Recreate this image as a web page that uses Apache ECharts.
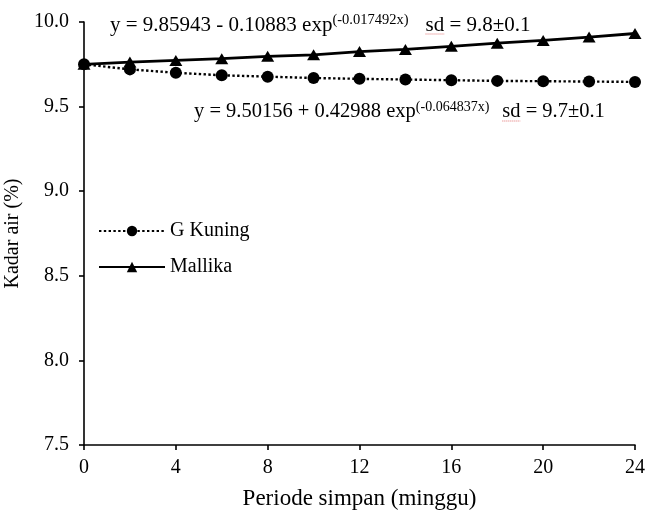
<!DOCTYPE html>
<html>
<head>
<meta charset="utf-8">
<script src="https://cdn.jsdelivr.net/npm/echarts@6/dist/echarts.min.js"></script>
<style>
html,body{margin:0;padding:0;background:#fff;}
#chart{width:648px;height:516px;}
</style>
</head>
<body>
<div id="chart"></div>
<script>
var weeks = [0, 2, 4, 6, 8, 10, 12, 14, 16, 18, 20, 22, 24];
var gKuning = [9.75, 9.72, 9.70, 9.685, 9.677, 9.669, 9.664, 9.660, 9.656, 9.652, 9.650, 9.648, 9.646];
var mallika = [9.75, 9.763, 9.773, 9.783, 9.797, 9.806, 9.825, 9.838, 9.856, 9.875, 9.891, 9.911, 9.932];
var seriesNames = ['G Kuning', 'Mallika'];
var xTitle = 'Periode simpan (minggu)';
var yTitle = 'Kadar air (%)';
var eq1 = ['y = 9.85943 - 0.10883 exp', '(-0.017492x)', 'sd', ' = 9.8\u00b10.1'];
var eq2 = ['y = 9.50156 + 0.42988 exp', '(-0.064837x)', 'sd', ' = 9.7\u00b10.1'];

var FONT = '"Liberation Serif", "Times New Roman", serif';
function pairs(ys) { return weeks.map(function (w, i) { return [w, ys[i]]; }); }

var mctx = document.createElement('canvas').getContext('2d');
function tw(t, size) { mctx.font = size + 'px ' + FONT; return mctx.measureText(t).width; }

function eqRich(fs, ss, gap) {
  return {
    m: {fontFamily: FONT, fontSize: fs, color: '#000', lineHeight: 24},
    s: {fontFamily: FONT, fontSize: ss, color: '#000', verticalAlign: 'top', lineHeight: 24},
    g: {fontFamily: FONT, fontSize: fs, color: '#000', lineHeight: 24, padding: [0, 0, 0, gap]}
  };
}
function eqGraphics(eq, x, y, fs, ss, gap) {
  var sdX = x + tw(eq[0], fs) + tw(eq[1], ss) + gap;
  var sdW = tw(eq[2], fs);
  return [
    {type: 'text', left: x, top: y, style: {
      text: '{m|' + eq[0] + '}{s|' + eq[1] + '}{g|' + eq[2] + '}{m|' + eq[3] + '}',
      rich: eqRich(fs, ss, gap)}},
    {type: 'line', shape: {x1: sdX, y1: y + 21, x2: sdX + sdW, y2: y + 21},
      style: {stroke: '#e07070', lineWidth: 1, lineDash: [1, 1]}}
  ];
}

var chart = echarts.init(document.getElementById('chart'), null, {renderer: 'canvas'});
chart.setOption({
  animation: false,
  backgroundColor: '#fff',
  grid: {left: 84, right: 13, top: 22, bottom: 71, containLabel: false, outerBoundsMode: 'none'},
  legend: {
    orient: 'vertical', left: 93, top: 216, itemWidth: 66, itemHeight: 13, itemGap: 16,
    textStyle: {fontFamily: FONT, fontSize: 20, color: '#000'},
    data: seriesNames
  },
  xAxis: {
    type: 'value', min: 0, max: 24, interval: 4,
    name: xTitle, nameLocation: 'middle', nameGap: 42,
    nameTextStyle: {fontFamily: FONT, fontSize: 23, color: '#000'},
    axisLine: {lineStyle: {color: '#000', width: 1.6}},
    axisTick: {show: true, inside: false, length: 5, lineStyle: {color: '#000', width: 1.6}},
    axisLabel: {fontFamily: FONT, fontSize: 20, color: '#000', margin: 13},
    splitLine: {show: false}
  },
  yAxis: {
    type: 'value', min: 7.5, max: 10, interval: 0.5,
    name: yTitle, nameLocation: 'middle', nameGap: 54,
    nameTextStyle: {fontFamily: FONT, fontSize: 20, color: '#000'},
    axisLine: {show: true, lineStyle: {color: '#000', width: 1.6}},
    axisTick: {show: true, inside: false, length: 5, lineStyle: {color: '#000', width: 1.6}},
    axisLabel: {fontFamily: FONT, fontSize: 20, color: '#000', margin: 15,
      formatter: function (v) { return v.toFixed(1); }},
    splitLine: {show: false}
  },
  series: [
    {
      name: seriesNames[1], type: 'line', data: pairs(mallika), z: 2,
      symbol: 'triangle', symbolSize: [13, 11],
      lineStyle: {color: '#000', width: 2.8, type: 'solid'},
      itemStyle: {color: '#000'}
    },
    {
      name: seriesNames[0], type: 'line', data: pairs(gKuning), z: 3,
      symbol: 'circle', symbolSize: 12,
      lineStyle: {color: '#000', width: 2.4, type: [2.4, 2.4]},
      itemStyle: {color: '#000'}
    }
  ],
  graphic: eqGraphics(eq1, 110, 13, 21, 14.5, 17).concat(eqGraphics(eq2, 194, 100, 20.5, 14, 13))
});
</script>
</body>
</html>
